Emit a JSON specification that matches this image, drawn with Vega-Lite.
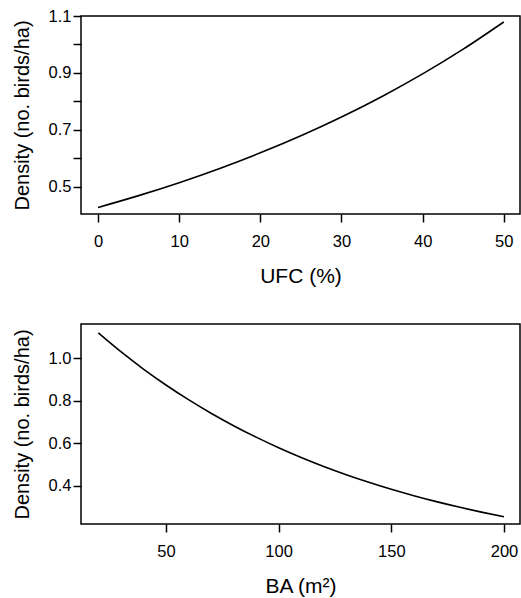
{
  "$schema": "https://vega.github.io/schema/vega-lite/v6.json",
  "padding": {"left": 11, "top": 7, "right": 1, "bottom": 0},
  "spacing": 35,
  "config": {
    "font": "Liberation Sans",
    "view": {"stroke": "black", "strokeWidth": 1.5},
    "axis": {
      "domain": false,
      "grid": false,
      "tickColor": "black",
      "tickWidth": 1.5,
      "tickSize": 8,
      "labelColor": "black",
      "labelFontSize": 16.5,
      "titleColor": "black",
      "titleFontSize": 20,
      "titleFontWeight": "normal"
    },
    "axisX": {"labelPadding": 11, "titlePadding": 16, "titleFontSize": 21},
    "axisY": {"labelPadding": 2, "titlePadding": 16}
  },
  "vconcat": [
    {
      "width": 439,
      "height": 198,
      "data": {"values": [
        {"ufc": 0, "density": 0.428},
        {"ufc": 5, "density": 0.4695},
        {"ufc": 10, "density": 0.5149},
        {"ufc": 15, "density": 0.5648},
        {"ufc": 20, "density": 0.6196},
        {"ufc": 25, "density": 0.6795},
        {"ufc": 30, "density": 0.7454},
        {"ufc": 35, "density": 0.8176},
        {"ufc": 40, "density": 0.8967},
        {"ufc": 45, "density": 0.9836},
        {"ufc": 50, "density": 1.079}
      ]},
      "mark": {"type": "line", "color": "black", "strokeWidth": 1.6, "interpolate": "monotone"},
      "encoding": {
        "x": {
          "field": "ufc", "type": "quantitative",
          "scale": {"domain": [-2.1, 52], "nice": false, "zero": false},
          "axis": {"title": "UFC (%)", "values": [0, 10, 20, 30, 40, 50]}
        },
        "y": {
          "field": "density", "type": "quantitative",
          "scale": {"domain": [0.405, 1.1], "nice": false, "zero": false},
          "axis": {
            "title": "Density (no. birds/ha)",
            "values": [0.5, 0.6, 0.7, 0.8, 0.9, 1.0, 1.1],
            "format": ".1f",
            "labelExpr": "round(datum.value * 10) % 2 == 1 ? datum.label : ''"
          }
        }
      }
    },
    {
      "width": 439,
      "height": 200,
      "data": {"values": [
        {"ba": 20, "density": 1.12},
        {"ba": 30, "density": 1.0314},
        {"ba": 40, "density": 0.9499},
        {"ba": 50, "density": 0.8748},
        {"ba": 60, "density": 0.8055},
        {"ba": 70, "density": 0.7418},
        {"ba": 80, "density": 0.6831},
        {"ba": 90, "density": 0.6291},
        {"ba": 100, "density": 0.5794},
        {"ba": 110, "density": 0.5335},
        {"ba": 120, "density": 0.4913},
        {"ba": 130, "density": 0.4525},
        {"ba": 140, "density": 0.4167},
        {"ba": 150, "density": 0.3837},
        {"ba": 160, "density": 0.3534},
        {"ba": 170, "density": 0.3254},
        {"ba": 180, "density": 0.2997},
        {"ba": 190, "density": 0.276},
        {"ba": 200, "density": 0.254}
      ]},
      "mark": {"type": "line", "color": "black", "strokeWidth": 1.6, "interpolate": "monotone"},
      "encoding": {
        "x": {
          "field": "ba", "type": "quantitative",
          "scale": {"domain": [12.3, 207.1], "nice": false, "zero": false},
          "axis": {"title": "BA (m²)", "values": [50, 100, 150, 200]}
        },
        "y": {
          "field": "density", "type": "quantitative",
          "scale": {"domain": [0.22, 1.162], "nice": false, "zero": false},
          "axis": {
            "title": "Density (no. birds/ha)",
            "values": [0.4, 0.6, 0.8, 1.0],
            "format": ".1f"
          }
        }
      }
    }
  ]
}
